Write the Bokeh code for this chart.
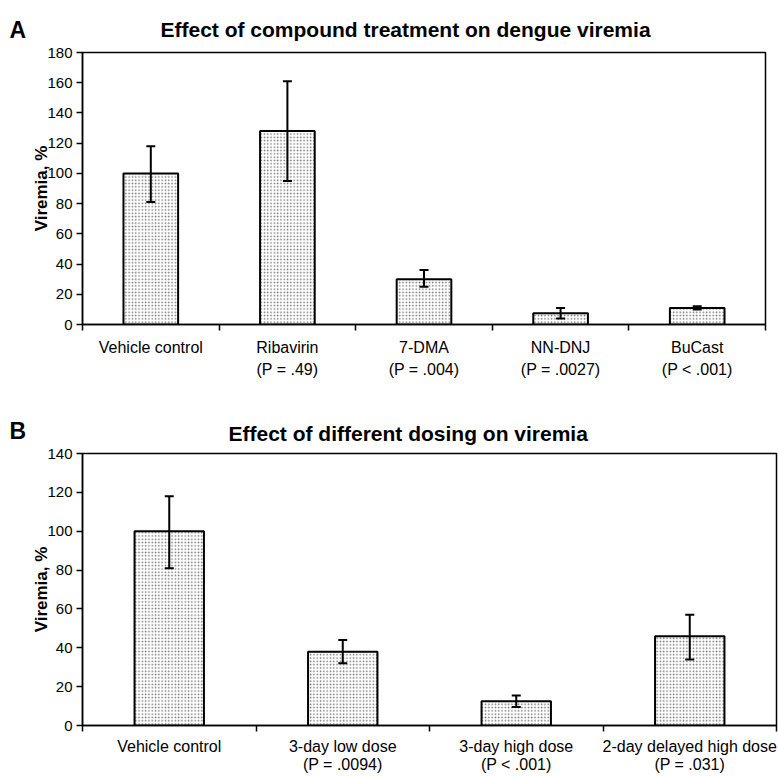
from bokeh.plotting import figure
from bokeh.models import (ColumnDataSource, Whisker, TeeHead, LinearAxis,
                          Range1d, FixedTicker, Title)
from bokeh.layouts import column, row
from bokeh.embed import file_html
from bokeh.resources import INLINE

# ---- data ----
a_names = ["Vehicle control", "Ribavirin", "7-DMA", "NN-DNJ", "BuCast"]
a_pvals = ["", "(P = .49)", "(P = .004)", "(P = .0027)", "(P < .001)"]
a_means = [100, 128, 30, 7.5, 11]
a_err_low = [81, 95, 25, 4, 10]
a_err_high = [118, 161, 36, 11, 12]
a_yticks = [0, 20, 40, 60, 80, 100, 120, 140, 160, 180]

b_names = ["Vehicle control", "3-day low dose", "3-day high dose", "2-day delayed high dose"]
b_pvals = ["", "(P = .0094)", "(P < .001)", "(P = .031)"]
b_means = [100, 38, 12.5, 46]
b_err_low = [81, 32, 9.5, 34]
b_err_high = [118, 44, 15.5, 57]
b_yticks = [0, 20, 40, 60, 80, 100, 120, 140]

FONT = "Liberation Sans"
LETTER_W = 28


def letter_fig(letter, height, top, standoff):
    f = figure(width=LETTER_W, height=height, output_backend="svg", toolbar_location=None,
               x_axis_location=None, y_axis_location=None,
               min_border_top=top, min_border_left=0, min_border_right=0, min_border_bottom=0)
    f.outline_line_color = None
    f.grid.visible = False
    f.title = Title(text=letter, align="left", offset=9, standoff=standoff,
                    text_font=FONT, text_font_style="bold", text_font_size="23px",
                    text_color="black")
    return f


def panel(title, names, pvals, means, lo, hi, yticks, width, height,
          b_top, b_bottom, b_left, b_right, title_dx, title_standoff, line_h, lab_standoff):
    labels = [n if not pv else n + "\n" + pv for n, pv in zip(names, pvals)]
    n = len(labels)
    centers = [i + 0.5 for i in range(n)]
    ymax = yticks[-1]
    p = figure(x_range=Range1d(0, n), y_range=Range1d(0, ymax),
               width=width, height=height, output_backend="svg",
               toolbar_location=None, x_axis_location=None,
               min_border_top=b_top, min_border_bottom=b_bottom,
               min_border_left=b_left, min_border_right=b_right)
    p.title = Title(text=title, align="left", offset=title_dx, standoff=title_standoff,
                    text_font=FONT, text_font_style="bold", text_font_size="21px",
                    text_color="black")
    p.grid.visible = False
    p.outline_line_color = "black"
    p.outline_line_width = 1.5

    # y axis
    ya = p.yaxis[0]
    ya.ticker = FixedTicker(ticks=yticks)
    ya.axis_label = "Viremia, %"
    ya.axis_label_text_font = FONT
    ya.axis_label_text_font_style = "bold"
    ya.axis_label_text_font_size = "17px"
    ya.axis_label_text_color = "black"
    ya.axis_label_standoff = -7
    ya.major_label_text_font = FONT
    ya.major_label_text_font_size = "15px"
    ya.major_label_text_color = "black"
    ya.major_label_standoff = 4
    ya.major_tick_in = 0
    ya.major_tick_out = 6
    ya.minor_tick_line_color = None
    ya.axis_line_width = 1.5
    ya.major_tick_line_width = 1.5
    ya.axis_line_color = "black"
    ya.major_tick_line_color = "black"

    # x axis: labels at category centers, ticks (as minor ticks) at boundaries
    xa = LinearAxis(ticker=FixedTicker(ticks=centers, minor_ticks=list(range(n + 1))))
    xa.major_label_overrides = {c: lab for c, lab in zip(centers, labels)}
    xa.axis_line_color = "black"
    xa.axis_line_width = 1.5
    xa.major_tick_line_color = None
    xa.minor_tick_line_color = "black"
    xa.minor_tick_line_width = 1.5
    xa.minor_tick_in = 0
    xa.minor_tick_out = 6
    xa.major_tick_in = 0
    xa.major_tick_out = 6
    xa.major_label_text_font = FONT
    xa.major_label_text_font_size = "16px"
    xa.major_label_text_color = "black"
    xa.major_label_text_line_height = line_h
    xa.major_label_standoff = lab_standoff
    p.add_layout(xa, "below")

    src = ColumnDataSource(dict(x=centers, top=means, lo=lo, hi=hi))
    p.vbar(x="x", top="top", width=0.4, source=src, fill_color="white",
           hatch_pattern="dot", hatch_scale=3.3, hatch_weight=1.1, hatch_color="#707070",
           line_color="black", line_width=2)
    w = Whisker(base="x", lower="lo", upper="hi", source=src, dimension="height",
                level="annotation", line_width=2, line_color="black",
                upper_head=TeeHead(size=9, line_width=2, line_color="black"),
                lower_head=TeeHead(size=9, line_width=2, line_color="black"))
    p.add_layout(w)
    return p


W = 778 - LETTER_W
pa = panel("Effect of compound treatment on dengue viremia", a_names, a_pvals,
           a_means, a_err_low, a_err_high, a_yticks, W, 392, 52, 68, 54, 13, 78, 23, 1.3, 8)
pb = panel("Effect of different dosing on viremia", b_names, b_pvals,
           b_means, b_err_low, b_err_high, b_yticks, W, 384, 61, 47, 54, 2, 146, 18, 1.1, 6)

layout = column(row(letter_fig("A", 392, 31, 20), pa, spacing=0),
                row(letter_fig("B", 384, 41, 19), pb, spacing=0), spacing=0)
open("out.html", "w").write(file_html(layout, INLINE))
